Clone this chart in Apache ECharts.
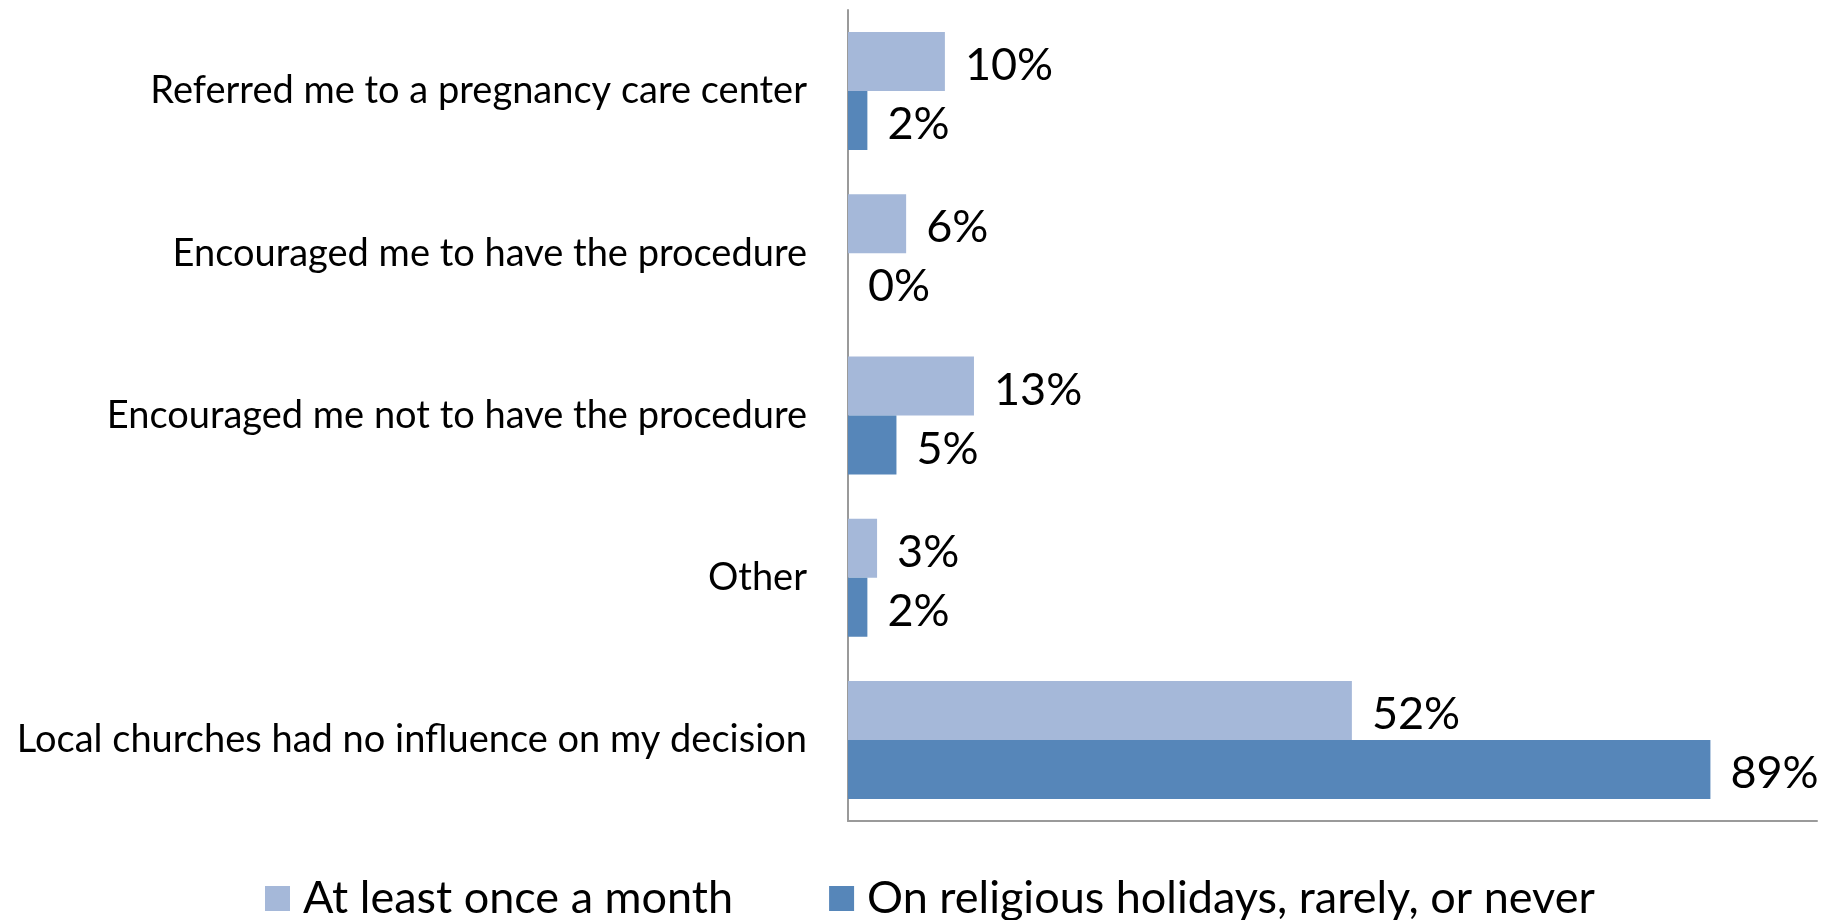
<!DOCTYPE html>
<html><head><meta charset="utf-8">
<script src="https://cdn.jsdelivr.net/npm/echarts@6/dist/echarts.min.js"></script>
<style>html,body{margin:0;padding:0;background:#fff}#c{width:1827px;height:920px}</style>
</head><body><div id="c"></div>
<script>
const categories = [
  "Referred me to a pregnancy care center",
  "Encouraged me to have the procedure",
  "Encouraged me not to have the procedure",
  "Other",
  "Local churches had no influence on my decision"
];
const seriesNames = ["At least once a month", "On religious holidays, rarely, or never"];
const monthly = [10, 6, 13, 3, 52];
const rarely = [2, 0, 5, 2, 89];
const FONT = "Lato";
const chart = echarts.init(document.getElementById('c'));
const lbl = {show:true, position:'right', distance:20, offset:[0,4], formatter: p => p.value + '%', color:'#000', fontFamily:FONT, fontSize:45};
chart.setOption({
  animation:false,
  grid:{left:848, right:10, top:10, bottom:99, containLabel:false},
  legend:{left:260, top:871, itemWidth:25, itemHeight:25, itemGap:96,
    textStyle:{fontFamily:FONT, fontSize:45, color:'#000', padding:[0,0,0,8]},
    data:seriesNames, icon:'rect'},
  xAxis:{type:'value', min:0, max:100, axisLine:{show:true, lineStyle:{color:'#9a9a9a', width:2}},
    axisTick:{show:false}, axisLabel:{show:false}, splitLine:{show:false}},
  yAxis:{type:'category', inverse:true, data:categories,
    axisLine:{show:true, lineStyle:{color:'#9a9a9a', width:2}}, axisTick:{show:false},
    axisLabel:{margin:41, color:'#000', fontFamily:FONT, fontSize:38, padding:[4,0,0,0]}},
  series:[
    {name:seriesNames[0], type:'bar', data:monthly, barWidth:59, barGap:'0%', itemStyle:{color:'#A5B8D9'}, label:lbl},
    {name:seriesNames[1], type:'bar', data:rarely, barWidth:59, barGap:'0%', itemStyle:{color:'#5686B9'}, label:lbl}
  ]
});
</script></body></html>
